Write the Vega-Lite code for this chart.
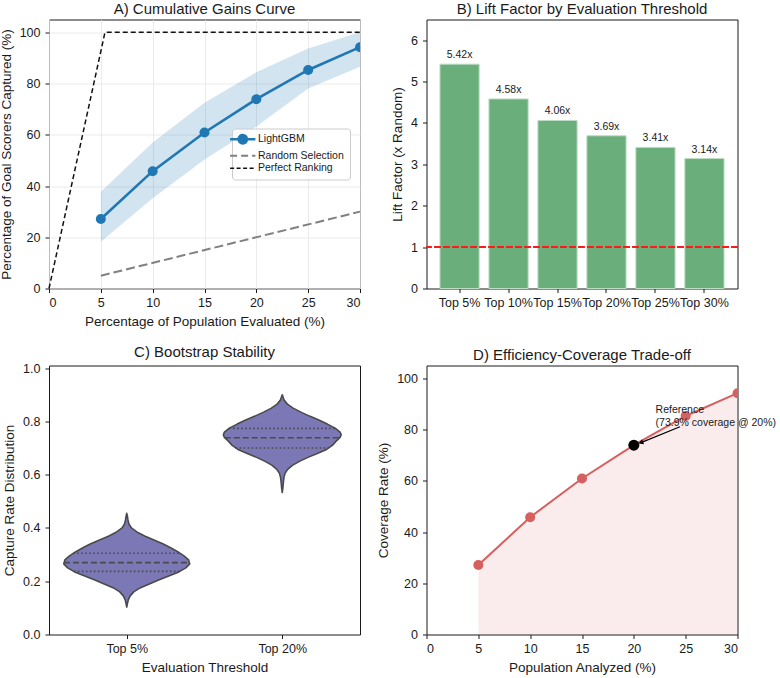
{
  "$schema": "https://vega.github.io/schema/vega-lite/v6.json",
  "background": "white",
  "padding": {"left": -2, "top": 1.5, "right": 0, "bottom": 0},
  "config": {
    "font": "Liberation Sans",
    "view": {"stroke": "#1a1a1a", "strokeWidth": 1},
    "axis": {
      "domain": false, "grid": false, "ticks": true,
      "tickColor": "#1a1a1a", "tickSize": 4, "tickWidth": 1,
      "labelFontSize": 12.5, "labelColor": "#1a1a1a",
      "titleFontSize": 13.5, "titleFontWeight": "normal", "titleColor": "#1a1a1a",
      "labelPadding": 4
    },
    "axisY": {"labelPadding": 5, "titlePadding": 6},
    "axisX": {"titlePadding": 5},
    "title": {"fontSize": 15, "fontWeight": "normal", "color": "#1a1a1a", "offset": 2.5, "anchor": "middle"}
  },
  "columns": 2,
  "spacing": {"row": 77, "column": 66.5},
  "bounds": "flush",
  "datasets": {
    "curves": [
      {"series": "LightGBM", "pct": 5, "capture": 27.1},
      {"series": "LightGBM", "pct": 10, "capture": 45.8},
      {"series": "LightGBM", "pct": 15, "capture": 60.9},
      {"series": "LightGBM", "pct": 20, "capture": 73.9},
      {"series": "LightGBM", "pct": 25, "capture": 85.3},
      {"series": "LightGBM", "pct": 30, "capture": 94.2},
      {"series": "Random Selection", "pct": 5, "capture": 5},
      {"series": "Random Selection", "pct": 30, "capture": 30},
      {"series": "Perfect Ranking", "pct": 0, "capture": 0},
      {"series": "Perfect Ranking", "pct": 5.4, "capture": 100},
      {"series": "Perfect Ranking", "pct": 30, "capture": 100}
    ],
    "band": [
      {"pct": 5, "lo": 18.2, "hi": 37.8},
      {"pct": 10, "lo": 35.2, "hi": 57.0},
      {"pct": 15, "lo": 50.4, "hi": 72.5},
      {"pct": 20, "lo": 63.2, "hi": 84.4},
      {"pct": 25, "lo": 78.1, "hi": 93.7},
      {"pct": 30, "lo": 86.6, "hi": 100.0}
    ],
    "lift": [
      {"threshold": "Top 5%", "lift": 5.42},
      {"threshold": "Top 10%", "lift": 4.58},
      {"threshold": "Top 15%", "lift": 4.06},
      {"threshold": "Top 20%", "lift": 3.69},
      {"threshold": "Top 25%", "lift": 3.41},
      {"threshold": "Top 30%", "lift": 3.14}
    ],
    "violin": [
      {"threshold": "Top 5%", "v": 0.103, "hw": 0},
      {"threshold": "Top 5%", "v": 0.115, "hw": 0.004},
      {"threshold": "Top 5%", "v": 0.130, "hw": 0.010},
      {"threshold": "Top 5%", "v": 0.145, "hw": 0.022},
      {"threshold": "Top 5%", "v": 0.160, "hw": 0.045},
      {"threshold": "Top 5%", "v": 0.175, "hw": 0.085},
      {"threshold": "Top 5%", "v": 0.190, "hw": 0.145},
      {"threshold": "Top 5%", "v": 0.205, "hw": 0.205},
      {"threshold": "Top 5%", "v": 0.220, "hw": 0.270},
      {"threshold": "Top 5%", "v": 0.235, "hw": 0.335},
      {"threshold": "Top 5%", "v": 0.250, "hw": 0.380},
      {"threshold": "Top 5%", "v": 0.265, "hw": 0.405},
      {"threshold": "Top 5%", "v": 0.280, "hw": 0.398},
      {"threshold": "Top 5%", "v": 0.295, "hw": 0.368},
      {"threshold": "Top 5%", "v": 0.310, "hw": 0.330},
      {"threshold": "Top 5%", "v": 0.325, "hw": 0.285},
      {"threshold": "Top 5%", "v": 0.340, "hw": 0.235},
      {"threshold": "Top 5%", "v": 0.355, "hw": 0.175},
      {"threshold": "Top 5%", "v": 0.370, "hw": 0.115},
      {"threshold": "Top 5%", "v": 0.385, "hw": 0.065},
      {"threshold": "Top 5%", "v": 0.400, "hw": 0.030},
      {"threshold": "Top 5%", "v": 0.415, "hw": 0.014},
      {"threshold": "Top 5%", "v": 0.430, "hw": 0.008},
      {"threshold": "Top 5%", "v": 0.445, "hw": 0.004},
      {"threshold": "Top 5%", "v": 0.455, "hw": 0},
      {"threshold": "Top 20%", "v": 0.533, "hw": 0},
      {"threshold": "Top 20%", "v": 0.550, "hw": 0.004},
      {"threshold": "Top 20%", "v": 0.570, "hw": 0.007},
      {"threshold": "Top 20%", "v": 0.590, "hw": 0.011},
      {"threshold": "Top 20%", "v": 0.605, "hw": 0.018},
      {"threshold": "Top 20%", "v": 0.620, "hw": 0.035},
      {"threshold": "Top 20%", "v": 0.635, "hw": 0.065},
      {"threshold": "Top 20%", "v": 0.650, "hw": 0.110},
      {"threshold": "Top 20%", "v": 0.665, "hw": 0.165},
      {"threshold": "Top 20%", "v": 0.680, "hw": 0.225},
      {"threshold": "Top 20%", "v": 0.695, "hw": 0.285},
      {"threshold": "Top 20%", "v": 0.710, "hw": 0.322},
      {"threshold": "Top 20%", "v": 0.725, "hw": 0.345},
      {"threshold": "Top 20%", "v": 0.740, "hw": 0.372},
      {"threshold": "Top 20%", "v": 0.750, "hw": 0.379},
      {"threshold": "Top 20%", "v": 0.760, "hw": 0.372},
      {"threshold": "Top 20%", "v": 0.775, "hw": 0.340},
      {"threshold": "Top 20%", "v": 0.790, "hw": 0.290},
      {"threshold": "Top 20%", "v": 0.805, "hw": 0.235},
      {"threshold": "Top 20%", "v": 0.820, "hw": 0.175},
      {"threshold": "Top 20%", "v": 0.835, "hw": 0.120},
      {"threshold": "Top 20%", "v": 0.850, "hw": 0.070},
      {"threshold": "Top 20%", "v": 0.865, "hw": 0.033},
      {"threshold": "Top 20%", "v": 0.880, "hw": 0.012},
      {"threshold": "Top 20%", "v": 0.892, "hw": 0.005},
      {"threshold": "Top 20%", "v": 0.900, "hw": 0}
    ],
    "quartiles": [
      {"threshold": "Top 5%", "kind": "quartile", "q": 0.237, "hw": 0.340},
      {"threshold": "Top 5%", "kind": "median", "q": 0.270, "hw": 0.404},
      {"threshold": "Top 5%", "kind": "quartile", "q": 0.305, "hw": 0.345},
      {"threshold": "Top 20%", "kind": "quartile", "q": 0.700, "hw": 0.300},
      {"threshold": "Top 20%", "kind": "median", "q": 0.739, "hw": 0.370},
      {"threshold": "Top 20%", "kind": "quartile", "q": 0.774, "hw": 0.342}
    ],
    "annotation": [
      {"x0": 24.45, "y0": 81.1, "x1": 20.75, "y1": 75.0, "tx": 22.1, "ty": 87.5,
       "label": "Reference\n(73.9% coverage @ 20%)"}
    ]
  },
  "concat": [
    {
      "width": 311, "height": 269,
      "title": "A) Cumulative Gains Curve",
      "layer": [
        {
          "data": {"name": "band"},
          "mark": {"type": "area", "color": "#1f77b4", "opacity": 0.2},
          "encoding": {
            "x": {"field": "pct", "type": "quantitative",
                  "scale": {"domain": [0, 30], "nice": false},
                  "axis": {"title": "Percentage of Population Evaluated (%)", "values": [0, 5, 10, 15, 20, 25, 30],
                           "grid": true, "gridColor": "#e6e6e6", "gridWidth": 0.8}},
            "y": {"field": "lo", "type": "quantitative",
                  "scale": {"domain": [0, 105], "nice": false},
                  "axis": {"title": "Percentage of Goal Scorers Captured (%)", "values": [0, 20, 40, 60, 80, 100],
                           "grid": true, "gridColor": "#e6e6e6", "gridWidth": 0.8}},
            "y2": {"field": "hi"}
          }
        },
        {
          "data": {"name": "curves"},
          "transform": [{"filter": "datum.series === 'Random Selection'"}],
          "mark": {"type": "line", "strokeWidth": 2, "strokeDash": [9, 4]},
          "encoding": {
            "x": {"field": "pct", "type": "quantitative"},
            "y": {"field": "capture", "type": "quantitative"},
            "color": {"field": "series", "type": "nominal"}
          }
        },
        {
          "data": {"name": "curves"},
          "transform": [{"filter": "datum.series === 'Perfect Ranking'"}],
          "mark": {"type": "line", "strokeWidth": 1.5, "strokeDash": [5, 3]},
          "encoding": {
            "x": {"field": "pct", "type": "quantitative"},
            "y": {"field": "capture", "type": "quantitative"},
            "color": {"field": "series", "type": "nominal"}
          }
        },
        {
          "data": {"name": "curves"},
          "transform": [{"filter": "datum.series === 'LightGBM'"}],
          "mark": {"type": "line", "strokeWidth": 2.6},
          "encoding": {
            "x": {"field": "pct", "type": "quantitative"},
            "y": {"field": "capture", "type": "quantitative"},
            "color": {
              "field": "series", "type": "nominal",
              "scale": {"domain": ["LightGBM", "Random Selection", "Perfect Ranking"],
                        "range": ["#1f77b4", "#808080", "#111111"]},
              "legend": {
                "title": null, "orient": "none", "legendX": 183, "legendY": 109,
                "labelFontSize": 10.5, "labelColor": "#1a1a1a", "labelOffset": 10,
                "fillColor": "rgba(255,255,255,0.85)", "strokeColor": "#cccccc", "cornerRadius": 3,
                "padding": 5.5, "rowPadding": 1.5, "symbolSize": 640, "symbolType": "stroke", "symbolStrokeWidth": 2,
                "encode": {
                  "symbols": {
                    "update": {
                      "shape": {"signal": "datum.value === 'LightGBM' ? 'M-1,0H1M0.33,0A0.33,0.33,0,1,1,-0.33,0A0.33,0.33,0,1,1,0.33,0Z' : 'stroke'"},
                      "strokeDash": {"signal": "datum.value === 'Random Selection' ? [7, 4] : datum.value === 'Perfect Ranking' ? [4, 2.5] : [1, 0]"},
                      "strokeWidth": {"signal": "datum.value === 'LightGBM' ? 2.5 : datum.value === 'Random Selection' ? 2 : 1.5"},
                      "fill": {"signal": "datum.value === 'LightGBM' ? '#1f77b4' : 'transparent'"},
                      "fillOpacity": {"value": 1}
                    }
                  }
                }
              }
            }
          }
        },
        {
          "data": {"name": "curves"},
          "transform": [{"filter": "datum.series === 'LightGBM'"}],
          "mark": {"type": "circle", "size": 100, "opacity": 1, "color": "#1f77b4", "clip": true},
          "encoding": {
            "x": {"field": "pct", "type": "quantitative"},
            "y": {"field": "capture", "type": "quantitative"}
          }
        }
      ]
    },
    {
      "width": 311, "height": 269,
      "title": "B) Lift Factor by Evaluation Threshold",
      "data": {"name": "lift"},
      "transform": [{"calculate": "format(datum.lift, '.2f') + 'x'", "as": "label"}],
      "layer": [
        {
          "mark": {"type": "bar", "color": "#6aaf7b", "stroke": "#bcdcc4", "strokeWidth": 1},
          "encoding": {
            "x": {"field": "threshold", "type": "nominal", "sort": null,
                  "scale": {"paddingInner": 0.2, "paddingOuter": 0.275},
                  "axis": {"title": null, "labelAngle": 0, "labelOverlap": false, "labelBound": false}},
            "y": {"field": "lift", "type": "quantitative",
                  "scale": {"domain": [0, 6.5], "nice": false},
                  "axis": {"title": "Lift Factor (x Random)", "values": [0, 1, 2, 3, 4, 5, 6]}}
          }
        },
        {
          "mark": {"type": "text", "baseline": "bottom", "dy": -4, "fontSize": 10.5, "color": "#1a1a1a"},
          "encoding": {
            "x": {"field": "threshold", "type": "nominal", "sort": null},
            "y": {"field": "lift", "type": "quantitative"},
            "text": {"field": "label", "type": "nominal"}
          }
        },
        {
          "mark": {"type": "rule", "color": "#ff1a1a", "strokeWidth": 1.5, "strokeDash": [6, 3]},
          "encoding": {"y": {"datum": 1}}
        }
      ]
    },
    {
      "width": 311, "height": 269,
      "title": "C) Bootstrap Stability",
      "layer": [
        {
          "data": {"name": "violin"},
          "transform": [
            {"filter": "datum.threshold === 'Top 5%'"},
            {"calculate": "0 - datum.hw", "as": "left"},
            {"calculate": "0 + datum.hw", "as": "right"}
          ],
          "mark": {"type": "area", "orient": "horizontal", "color": "#7c78b6", "opacity": 1,
                   "stroke": "#4a4a4a", "strokeWidth": 1.6, "strokeJoin": "round"},
          "encoding": {
            "y": {"field": "v", "type": "quantitative",
                  "scale": {"domain": [0, 1.01], "nice": false},
                  "axis": {"title": "Capture Rate Distribution", "values": [0, 0.2, 0.4, 0.6, 0.8, 1.0], "format": ".1f"}},
            "x": {"field": "left", "type": "quantitative",
                  "scale": {"domain": [-0.5, 1.5], "nice": false},
                  "axis": {"title": "Evaluation Threshold", "values": [0, 1],
                           "labelExpr": "datum.value === 0 ? 'Top 5%' : 'Top 20%'"}},
            "x2": {"field": "right"}
          }
        },
        {
          "data": {"name": "violin"},
          "transform": [
            {"filter": "datum.threshold === 'Top 20%'"},
            {"calculate": "1 - datum.hw", "as": "left"},
            {"calculate": "1 + datum.hw", "as": "right"}
          ],
          "mark": {"type": "area", "orient": "horizontal", "color": "#7c78b6", "opacity": 1,
                   "stroke": "#4a4a4a", "strokeWidth": 1.6, "strokeJoin": "round"},
          "encoding": {
            "y": {"field": "v", "type": "quantitative"},
            "x": {"field": "left", "type": "quantitative"},
            "x2": {"field": "right"}
          }
        },
        {
          "data": {"name": "quartiles"},
          "transform": [
            {"filter": "datum.kind === 'quartile'"},
            {"calculate": "datum.threshold === 'Top 5%' ? 0 : 1", "as": "slot"},
            {"calculate": "datum.slot - datum.hw", "as": "left"},
            {"calculate": "datum.slot + datum.hw", "as": "right"}
          ],
          "mark": {"type": "rule", "color": "#4a4a4a", "strokeWidth": 1.6, "strokeDash": [1.6, 2.4]},
          "encoding": {
            "y": {"field": "q", "type": "quantitative"},
            "x": {"field": "left", "type": "quantitative"},
            "x2": {"field": "right"}
          }
        },
        {
          "data": {"name": "quartiles"},
          "transform": [
            {"filter": "datum.kind === 'median'"},
            {"calculate": "datum.threshold === 'Top 5%' ? 0 : 1", "as": "slot"},
            {"calculate": "datum.slot - datum.hw", "as": "left"},
            {"calculate": "datum.slot + datum.hw", "as": "right"}
          ],
          "mark": {"type": "rule", "color": "#4a4a4a", "strokeWidth": 1.6, "strokeDash": [6, 3]},
          "encoding": {
            "y": {"field": "q", "type": "quantitative"},
            "x": {"field": "left", "type": "quantitative"},
            "x2": {"field": "right"}
          }
        }
      ]
    },
    {
      "width": 311, "height": 269,
      "title": "D) Efficiency-Coverage Trade-off",
      "layer": [
        {
          "data": {"name": "curves"},
          "transform": [{"filter": "datum.series === 'LightGBM'"}],
          "mark": {"type": "area", "color": "#d65f5f", "opacity": 0.12},
          "encoding": {
            "x": {"field": "pct", "type": "quantitative",
                  "scale": {"domain": [0, 30], "nice": false},
                  "axis": {"title": "Population Analyzed (%)", "values": [0, 5, 10, 15, 20, 25, 30]}},
            "y": {"field": "capture", "type": "quantitative",
                  "scale": {"domain": [0, 105], "nice": false},
                  "axis": {"title": "Coverage Rate (%)", "values": [0, 20, 40, 60, 80, 100]}}
          }
        },
        {
          "data": {"name": "curves"},
          "transform": [{"filter": "datum.series === 'LightGBM'"}],
          "mark": {"type": "line", "color": "#d65f5f", "strokeWidth": 2},
          "encoding": {
            "x": {"field": "pct", "type": "quantitative"},
            "y": {"field": "capture", "type": "quantitative"}
          }
        },
        {
          "data": {"name": "curves"},
          "transform": [{"filter": "datum.series === 'LightGBM'"}],
          "mark": {"type": "circle", "size": 100, "opacity": 1, "color": "#d65f5f", "clip": true},
          "encoding": {
            "x": {"field": "pct", "type": "quantitative"},
            "y": {"field": "capture", "type": "quantitative"}
          }
        },
        {
          "data": {"name": "curves"},
          "transform": [{"filter": "datum.series === 'LightGBM' && datum.pct === 20"}],
          "mark": {"type": "circle", "size": 120, "opacity": 1, "color": "#000000"},
          "encoding": {
            "x": {"field": "pct", "type": "quantitative"},
            "y": {"field": "capture", "type": "quantitative"}
          }
        },
        {
          "data": {"name": "annotation"},
          "mark": {"type": "rule", "color": "#000000", "strokeWidth": 1.2},
          "encoding": {
            "x": {"field": "x0", "type": "quantitative"},
            "y": {"field": "y0", "type": "quantitative"},
            "x2": {"field": "x1"},
            "y2": {"field": "y1"}
          }
        },
        {
          "data": {"name": "annotation"},
          "mark": {"type": "point", "shape": "triangle", "filled": true, "color": "#000000",
                   "opacity": 1, "size": 30, "angle": 248.7},
          "encoding": {
            "x": {"field": "x1", "type": "quantitative"},
            "y": {"field": "y1", "type": "quantitative"}
          }
        },
        {
          "data": {"name": "annotation"},
          "mark": {"type": "text", "align": "left", "baseline": "middle", "fontSize": 10.5,
                   "lineBreak": "\n", "lineHeight": 12.5, "color": "#1a1a1a"},
          "encoding": {
            "x": {"field": "tx", "type": "quantitative"},
            "y": {"field": "ty", "type": "quantitative"},
            "text": {"field": "label", "type": "nominal"}
          }
        }
      ]
    }
  ]
}
